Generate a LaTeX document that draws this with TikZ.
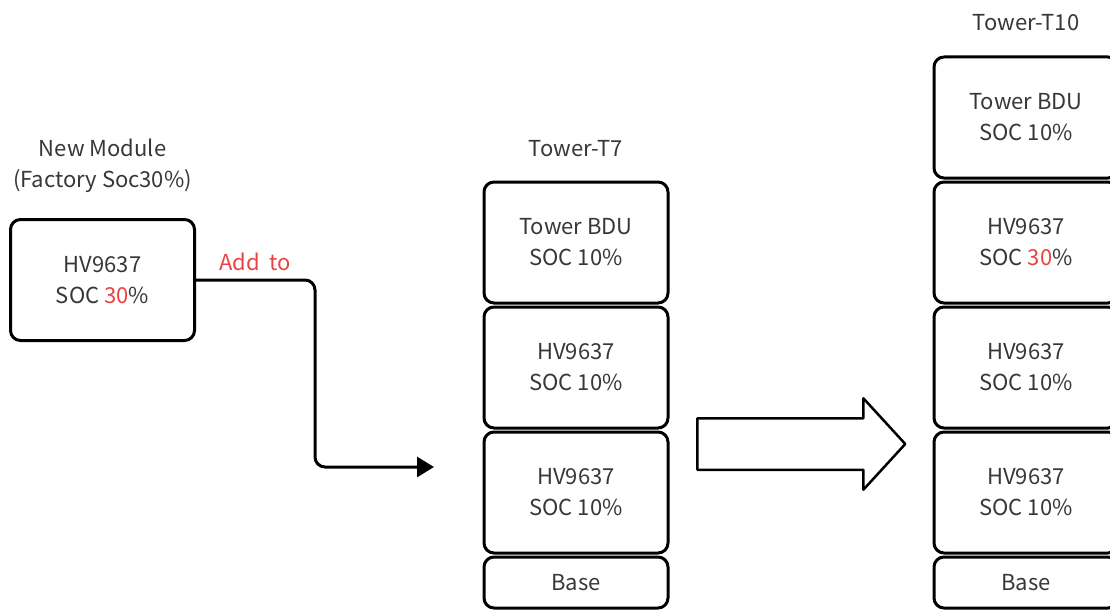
\documentclass[tikz,border=0pt]{standalone}
\usepackage{fontspec}
\setmainfont{Noto Sans CJK SC}
\usetikzlibrary{positioning, arrows.meta, shapes.arrows}
\definecolor{txt}{RGB}{55,55,55}
\definecolor{socred}{RGB}{235,66,66}
\newcommand{\hot}[1]{\textcolor{socred}{#1}}
\tikzset{
  pack/.style={draw, line width=3pt, outer sep=0pt, rounded corners=10pt, minimum width=184pt, minimum height=121pt, align=center, text=txt, font=\fontsize{22}{31}\selectfont},
  basepack/.style={pack, minimum height=51pt},
  ttl/.style={align=center, inner sep=0pt, text=txt, font=\fontsize{22}{31}\selectfont},
  bigarrow/.style={single arrow, draw, line width=2.5pt, minimum height=208pt, minimum width=89pt, single arrow head extend=20pt, single arrow tip angle=95, inner xsep=0pt, inner ysep=24.5pt},
}

\begin{document}
\begin{tikzpicture}[x=1pt, y=-1pt, >={Triangle[length=17pt, width=20pt]}, line join=round]
  \path[use as bounding box, clip] (0,0) rectangle (1110,610);
  % new module
  \node[pack] (nm) at (102.5,280) {HV9637\\SOC \hot{30}\%};
  \node[ttl, above=27pt of nm] (nmlbl) {New Module\\(Factory Soc30\%)};
  % tower T7
  \node[pack] (t7a) at (576,242.5) {Tower BDU\\SOC 10\%};
  \node[pack, below=4pt of t7a] (t7b) {HV9637\\SOC 10\%};
  \node[pack, below=4pt of t7b] (t7c) {HV9637\\SOC 10\%};
  \node[basepack, below=4pt of t7c] (t7d) {Base};
  \node[ttl, above=25pt of t7a] (t7lbl) {Tower-T7};
  % tower T10
  \node[pack] (t10a) at (1026,117.5) {Tower BDU\\SOC 10\%};
  \node[pack, below=4pt of t10a] (t10b) {HV9637\\SOC \hot{30}\%};
  \node[pack, below=4pt of t10b] (t10c) {HV9637\\SOC 10\%};
  \node[pack, below=4pt of t10c] (t10d) {HV9637\\SOC 10\%};
  \node[basepack, below=4pt of t10d] (t10e) {Base};
  \node[ttl, above=26pt of t10a] (t10lbl) {Tower-T10};
  % add to
  \coordinate (bend) at (315,467);
  \coordinate (drop) at (434,467);
  \draw[->, line width=3pt, rounded corners=10pt] (nm.east) -| node[pos=0.25, above, inner sep=8pt, text=socred, font=\fontsize{22}{26}\selectfont] (addlbl) {Add\hspace{0.2em} to} (bend) -- (drop);
  % T7 becomes T10
  \node[bigarrow, anchor=tail] (go) at (696,444) {};
\end{tikzpicture}
\end{document}
